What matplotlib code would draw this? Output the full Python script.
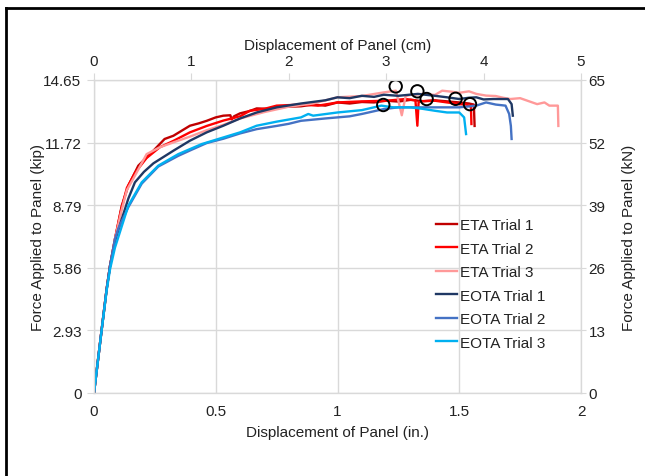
import matplotlib
matplotlib.use("Agg")
import matplotlib.pyplot as plt
from matplotlib.lines import Line2D

plt.rcParams.update({
    'font.family': ['Liberation Sans', 'DejaVu Sans'],
    'font.size': 11,
})

# ---- data (displacement in., force kip) ----
eta1_x = [0, 0.02, 0.031, 0.052, 0.066, 0.086, 0.114, 0.141, 0.182, 0.237, 0.29, 0.326, 0.394,
          0.43, 0.463, 0.5, 0.531, 0.56, 0.565, 0.575, 0.6, 0.64, 0.668, 0.72, 0.75, 0.8, 0.85,
          0.9, 0.95, 1.0, 1.05, 1.1, 1.15, 1.2, 1.25, 1.3, 1.35, 1.4, 1.45, 1.5, 1.54, 1.56, 1.563]
eta1_y = [0, 1.9, 2.92, 4.87, 5.96, 7.2, 8.77, 9.7, 10.64, 11.26, 11.89, 12.04, 12.51,
          12.62, 12.74, 12.9, 12.98, 13.0, 12.8, 12.95, 13.09, 13.2, 13.32, 13.3, 13.37, 13.4, 13.42,
          13.5, 13.45, 13.6, 13.55, 13.62, 13.6, 13.68, 13.64, 13.72, 13.66, 13.7, 13.65, 13.6, 13.55, 13.5, 12.5]

eta2_x = [0, 0.031, 0.052, 0.066, 0.086, 0.11, 0.135, 0.168, 0.216, 0.27, 0.326, 0.394, 0.463,
          0.531, 0.6, 0.64, 0.7, 0.75, 0.85, 0.92, 1.0, 1.1, 1.2, 1.28, 1.32, 1.328, 1.333, 1.34,
          1.4, 1.45, 1.5, 1.53, 1.548, 1.55]
eta2_y = [0, 2.92, 4.87, 5.96, 7.2, 8.5, 9.6, 10.3, 11.0, 11.5, 11.8, 12.2, 12.5,
          12.75, 12.95, 13.21, 13.3, 13.45, 13.5, 13.45, 13.6, 13.65, 13.68, 13.76, 13.7, 12.51, 13.6, 13.65,
          13.68, 13.6, 13.52, 13.5, 13.4, 12.59]

eta3_x = [0, 0.031, 0.052, 0.066, 0.086, 0.11, 0.135, 0.168, 0.216, 0.27, 0.326, 0.394, 0.463,
          0.531, 0.6, 0.7, 0.8, 0.9, 1.0, 1.1, 1.19, 1.24, 1.264, 1.28, 1.3, 1.35, 1.4, 1.43,
          1.47, 1.5, 1.54, 1.57, 1.61, 1.65, 1.68, 1.71, 1.75, 1.78, 1.82, 1.85, 1.87, 1.905, 1.907]
eta3_y = [0, 2.92, 4.87, 5.96, 7.2, 8.4, 9.5, 10.17, 11.18, 11.5, 11.73, 12.0, 12.3,
          12.55, 12.85, 13.15, 13.4, 13.55, 13.84, 13.9, 14.07, 14.15, 13.0, 13.9, 13.95, 14.0, 13.95, 14.15,
          14.1, 14.05, 14.12, 14.0, 13.92, 13.9, 13.82, 13.76, 13.8, 13.68, 13.52, 13.6, 13.45, 13.45, 12.5]

eota1_x = [0, 0.031, 0.052, 0.066, 0.086, 0.114, 0.141, 0.168, 0.205, 0.244, 0.326, 0.394, 0.463,
           0.531, 0.6, 0.668, 0.75, 0.85, 0.95, 1.0, 1.05, 1.1, 1.15, 1.19, 1.25, 1.33, 1.4,
           1.45, 1.5, 1.54, 1.57, 1.6, 1.64, 1.7, 1.715, 1.72]
eota1_y = [0, 2.92, 4.87, 5.96, 7.1, 8.14, 9.1, 9.86, 10.35, 10.75, 11.34, 11.81, 12.2,
           12.51, 12.85, 13.13, 13.37, 13.55, 13.7, 13.84, 13.8, 13.91, 13.86, 13.96, 13.91, 14.0, 13.91,
           13.84, 13.76, 13.82, 13.84, 13.74, 13.76, 13.76, 13.52, 12.98]

eota2_x = [0, 0.031, 0.052, 0.066, 0.086, 0.1, 0.141, 0.196, 0.264, 0.346, 0.394, 0.463, 0.531,
           0.6, 0.668, 0.75, 0.8, 0.85, 0.95, 1.0, 1.05, 1.1, 1.19, 1.25, 1.35, 1.45, 1.5,
           1.57, 1.61, 1.65, 1.69, 1.705, 1.712, 1.715]
eota2_y = [0, 2.92, 4.87, 5.96, 7.2, 7.7, 8.7, 9.8, 10.6, 11.1, 11.35, 11.7, 11.9,
           12.15, 12.35, 12.5, 12.6, 12.74, 12.85, 12.9, 12.95, 13.06, 13.29, 13.37, 13.37, 13.37, 13.37,
           13.45, 13.6, 13.5, 13.45, 13.06, 12.5, 11.89]

eota3_x = [0, 0.031, 0.052, 0.066, 0.086, 0.1, 0.141, 0.196, 0.264, 0.346, 0.442, 0.531, 0.6,
           0.668, 0.75, 0.85, 0.88, 0.9, 1.0, 1.1, 1.18, 1.23, 1.3, 1.35, 1.4, 1.45, 1.5,
           1.52, 1.528]
eota3_y = [0, 2.9, 4.8, 5.8, 6.8, 7.3, 8.77, 9.86, 10.64, 11.18, 11.65, 11.96, 12.2,
           12.51, 12.7, 12.9, 13.06, 12.98, 13.13, 13.24, 13.45, 13.37, 13.37, 13.3, 13.21, 13.13, 13.13,
           12.9, 12.12]

# peak markers
peak_x = [1.239, 1.328, 1.366, 1.485, 1.544, 1.188]
peak_y = [14.35, 14.12, 13.76, 13.77, 13.52, 13.48]

series = [
    ('ETA Trial 1', eta1_x, eta1_y, '#C00000'),
    ('ETA Trial 2', eta2_x, eta2_y, '#FF0000'),
    ('ETA Trial 3', eta3_x, eta3_y, '#FF9999'),
    ('EOTA Trial 1', eota1_x, eota1_y, '#1F3864'),
    ('EOTA Trial 2', eota2_x, eota2_y, '#4472C4'),
    ('EOTA Trial 3', eota3_x, eota3_y, '#00B0F0'),
]

kip_ticks = [0, 2.93, 5.86, 8.79, 11.72, 14.65]
kn_ticks = [0, 13, 26, 39, 52, 65]
cm_ticks = [0, 1, 2, 3, 4, 5]
in_ticks = [0, 0.5, 1, 1.5, 2]

GRID = '#D9D9D9'
TXT = '#222222'

fig = plt.figure(figsize=(6.45, 4.77), dpi=100)
ax = fig.add_axes([94 / 645, 83 / 477, 487 / 645, 313 / 477])

for label, x, y, c in series:
    ax.plot(x, y, color=c, linewidth=1.7, label=label, zorder=3)
ax.scatter(peak_x, peak_y, s=80, facecolor='none', edgecolor='black', linewidth=1.4, zorder=5)

ax.set_xlim(0, 2)
ax.set_ylim(0, 14.65)
ax.set_xticks(in_ticks)
ax.set_xticklabels(['0', '0.5', '1', '1.5', '2'])
ax.set_yticks(kip_ticks)
ax.set_yticklabels(['0', '2.93', '5.86', '8.79', '11.72', '14.65'])
ax.grid(True, color=GRID, linewidth=1.0, zorder=0)
ax.set_axisbelow(True)
ax.tick_params(axis='x', length=0, pad=8, labelsize=11, colors=TXT)
ax.tick_params(axis='y', length=5, color=GRID, pad=4, labelsize=11, labelcolor=TXT)
for s in ax.spines.values():
    s.set_color(GRID)
ax.set_xlabel('Displacement of Panel (in.)', color=TXT, labelpad=5)
ax.set_ylabel('Force Applied to Panel (kip)', color=TXT, labelpad=-1)

ax_top = ax.twiny()
ax_top.set_xlim(0, 5)
ax_top.set_xticks(cm_ticks)
ax_top.tick_params(axis='x', length=5, color=GRID, pad=4, labelsize=11, labelcolor=TXT)
ax_top.set_xlabel('Displacement of Panel (cm)', color=TXT, labelpad=3)

ax_r = ax.twinx()
ax_r.set_ylim(0, 65)
ax_r.set_yticks(kn_ticks)
ax_r.tick_params(axis='y', length=3.5, color=GRID, pad=2, labelsize=11, labelcolor=TXT)
ax_r.set_ylabel('Force Applied to Panel (kN)', color=TXT, labelpad=12)
for a in (ax_top, ax_r):
    for s in a.spines.values():
        s.set_color(GRID)

leg = ax_r.legend(*ax.get_legend_handles_labels(), loc='upper left',
                  bbox_to_anchor=(0.686, 0.583), frameon=False, fontsize=11,
                  handlelength=1.4, handletextpad=0.2, labelspacing=0.62, borderpad=0)
for t in leg.get_texts():
    t.set_color(TXT)

# outer frame (left and top edges of the original figure border)
fig.add_artist(Line2D([6 / 645, 6 / 645], [0, 1 - 9 / 477], transform=fig.transFigure,
                      color='black', linewidth=2))
fig.add_artist(Line2D([6 / 645, 1], [1 - 9 / 477, 1 - 9 / 477], transform=fig.transFigure,
                      color='black', linewidth=2))

fig.savefig('out.png', dpi=100)
